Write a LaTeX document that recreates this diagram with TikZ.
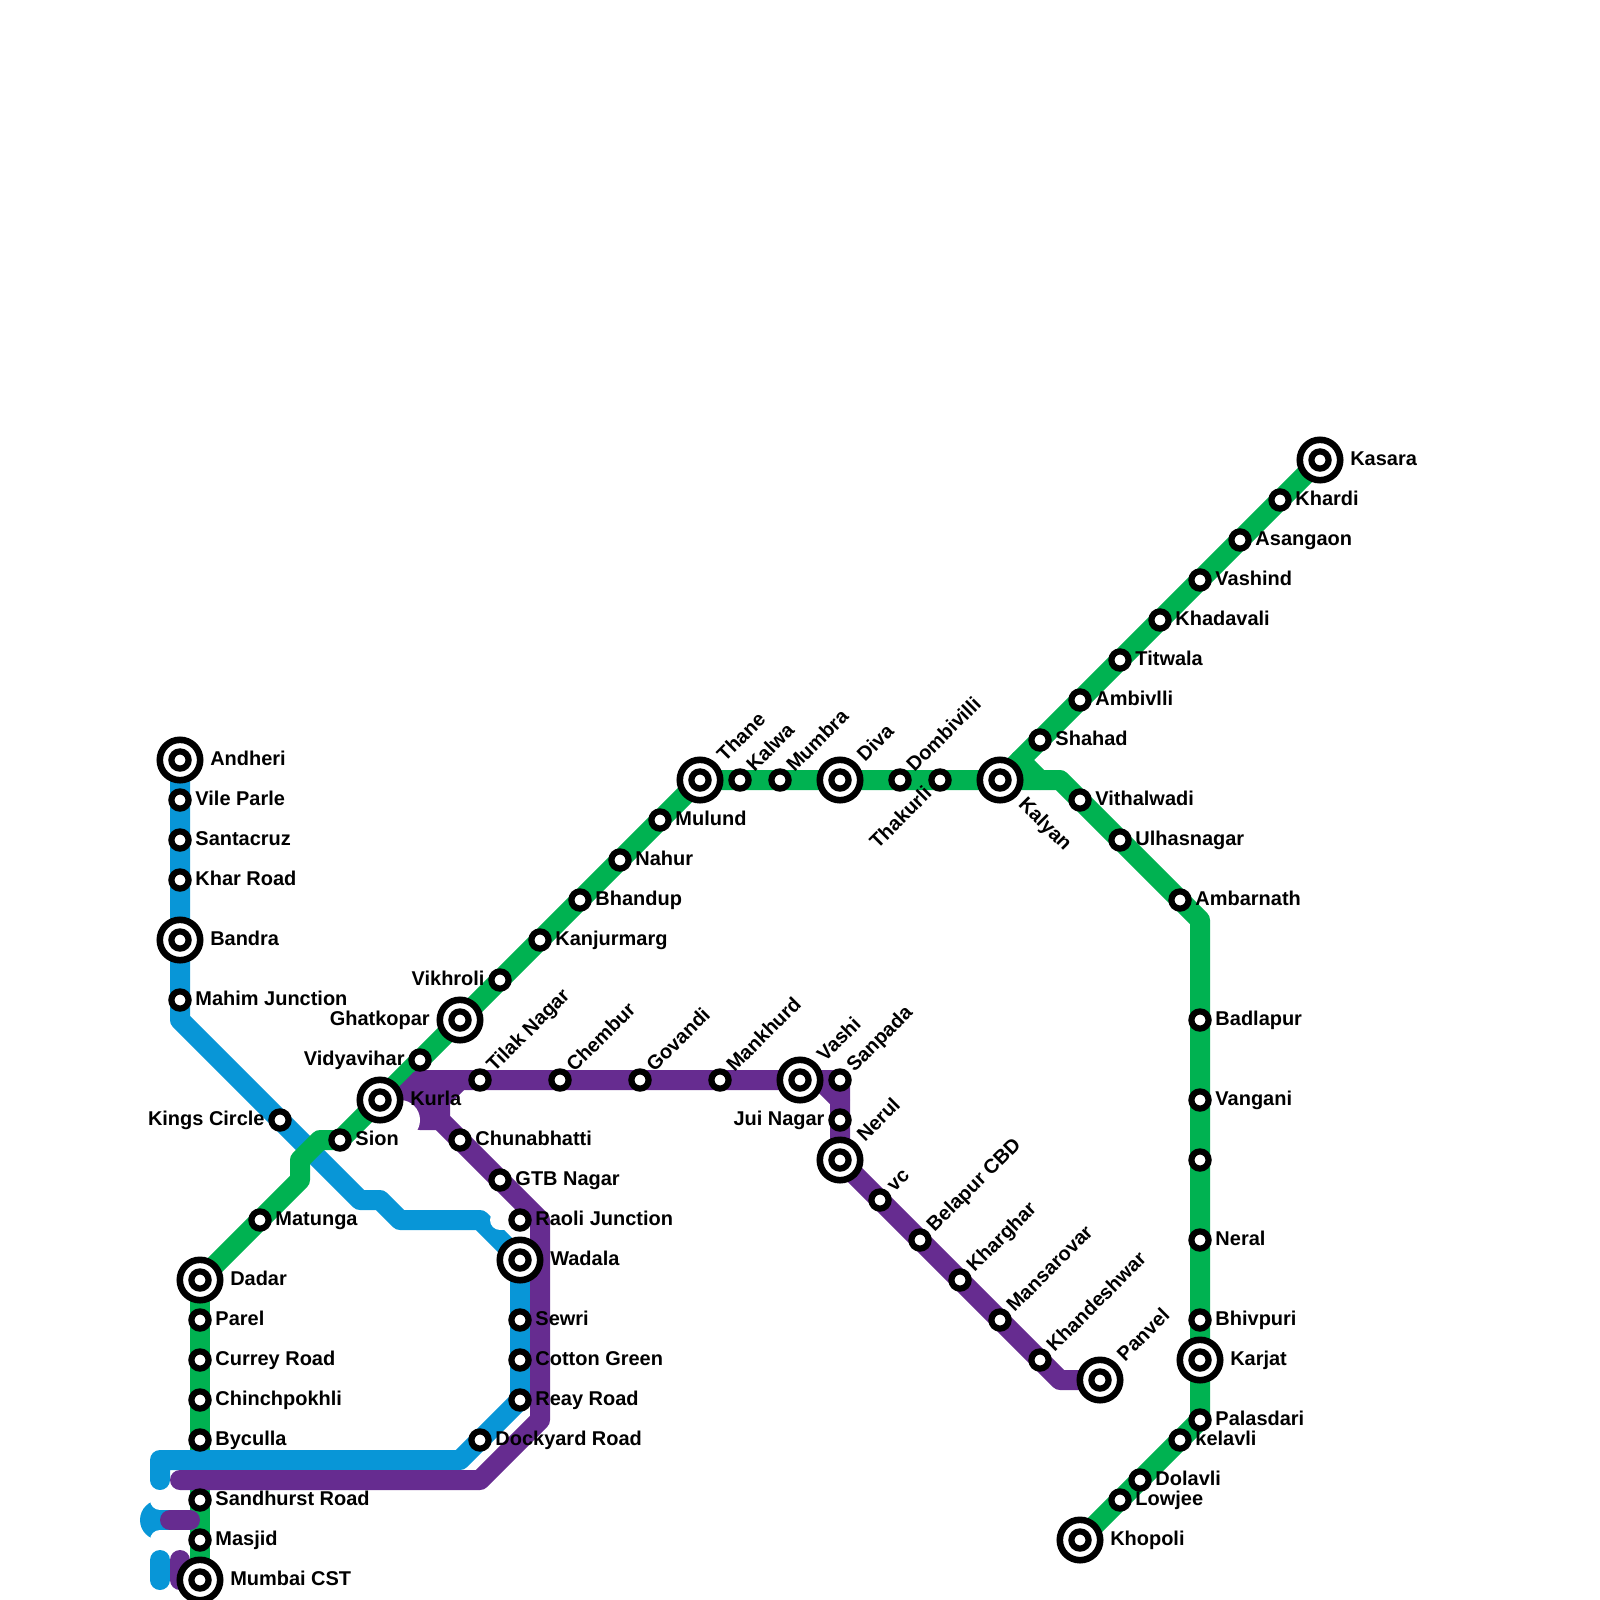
\documentclass[tikz,border=0pt]{standalone}
\usepackage{fontspec}
\setmainfont{Liberation Sans}
\usetikzlibrary{positioning,backgrounds}
\definecolor{lineblue}{HTML}{0896D7}
\definecolor{linegreen}{HTML}{00B251}
\definecolor{linepurple}{HTML}{662C90}
\begin{document}
\begin{tikzpicture}[x=0.5cm, y=-0.5cm,
    stn/.style={circle, draw=black, fill=white, line width=0.155cm, minimum size=0.43cm, inner sep=0pt},
    hub/.style={circle, draw=black, fill=white, line width=0.165cm, minimum size=1.01cm, inner sep=0pt},
    lbl/.style={inner sep=0pt, text height=10pt, text depth=2.4pt, font=\fontsize{14.2}{16}\selectfont\bfseries},
    pipe/.style={line width=0.5cm, line cap=round, line join=round}]
  \useasboundingbox (0,0) rectangle (80,80);
  % plain stations, text to the east
  \foreach \id/\x/\y/\txt in {vileparle/9/40/Vile Parle, santacruz/9/42/Santacruz, kharroad/9/44/Khar Road,
      mahim/9/50/Mahim Junction, sion/17/57/Sion, matunga/13/61/Matunga, parel/10/66/Parel,
      curreyroad/10/68/Currey Road, chinchpokhli/10/70/Chinchpokhli, byculla/10/72/Byculla,
      sandhurst/10/75/Sandhurst Road, masjid/10/77/Masjid, mulund/33/41/Mulund, nahur/31/43/Nahur,
      bhandup/29/45/Bhandup, kanjurmarg/27/47/Kanjurmarg, khardi/64/25/Khardi, asangaon/62/27/Asangaon,
      vashind/60/29/Vashind, khadavali/58/31/Khadavali, titwala/56/33/Titwala, ambivli/54/35/Ambivlli,
      shahad/52/37/Shahad, vithalwadi/54/40/Vithalwadi, ulhasnagar/56/42/Ulhasnagar,
      ambarnath/59/45/Ambarnath, badlapur/60/51/Badlapur, vangani/60/55/Vangani, neral/60/62/Neral,
      bhivpuri/60/66/Bhivpuri, palasdari/60/71/Palasdari, kelavli/59/72/kelavli, dolavli/57/74/Dolavli,
      lowjee/56/75/Lowjee, chunabhatti/23/57/Chunabhatti, gtbnagar/25/59/GTB Nagar,
      raoli/26/61/Raoli Junction, sewri/26/66/Sewri, cottongreen/26/68/Cotton Green,
      reayroad/26/70/Reay Road, dockyard/24/72/Dockyard Road} {
    \node[stn] (\id) at (\x,\y) {};
    \node[lbl, right=0.38cm of \id.center] (\id-t) {\txt};
  }
  % plain stations, text to the west
  \foreach \id/\x/\y/\txt in {kingscircle/14/56/Kings Circle, vikhroli/25/49/Vikhroli,
      vidyavihar/21/53/Vidyavihar, juinagar/42/56/Jui Nagar} {
    \node[stn] (\id) at (\x,\y) {};
    \node[lbl, left=0.38cm of \id.center] (\id-t) {\txt};
  }
  % plain stations, text rising at 45 degrees
  \foreach \id/\x/\y/\txt in {tilaknagar/24/54/Tilak Nagar, chembur/28/54/Chembur, govandi/32/54/Govandi,
      mankhurd/36/54/Mankhurd, sanpada/42/54/Sanpada, kalwa/37/39/Kalwa, mumbra/39/39/Mumbra,
      dombivilli/45/39/Dombivilli, vc/44/60/vc, belapur/46/62/Belapur CBD, kharghar/48/64/Kharghar,
      mansarovar/50/66/Mansarovar, khandeshwar/52/68/Khandeshwar} {
    \node[stn] (\id) at (\x,\y) {};
    \node[lbl, rotate=45, anchor=west] (\id-t) at ([shift={(45:0.38cm)}]\id.center) {\txt};
  }
  \node[stn] (thakurli) at (47,39) {};
  \node[lbl, rotate=45, anchor=east] (thakurli-t) at ([shift={(225:0.38cm)}]thakurli.center) {Thakurli};
  \node[stn] (nolabel) at (60,58) {};
  % big stations, text to the east
  \foreach \id/\x/\y/\txt in {andheri/9/38/Andheri, bandra/9/47/Bandra, dadar/10/64/Dadar,
      mumbaicst/10/79/Mumbai CST, kurla/19/55/Kurla, wadala/26/63/Wadala, kasara/66/23/Kasara,
      karjat/60/68/Karjat, khopoli/54/77/Khopoli} {
    \node[hub] (\id) at (\x,\y) {};
    \node[stn] (\id-c) at (\x,\y) {};
    \node[lbl, right=0.75cm of \id.center] (\id-t) {\txt};
  }
  \node[hub] (ghatkopar) at (23,51) {};
  \node[stn] (ghatkopar-c) at (23,51) {};
  \node[lbl, left=0.75cm of ghatkopar.center] (ghatkopar-t) {Ghatkopar};
  % big stations, text rising at 45 degrees
  \foreach \id/\x/\y/\txt in {thane/35/39/Thane, diva/42/39/Diva, vashi/40/54/Vashi, nerul/42/58/Nerul,
      panvel/55/69/Panvel} {
    \node[hub] (\id) at (\x,\y) {};
    \node[stn] (\id-c) at (\x,\y) {};
    \node[lbl, rotate=45, anchor=west] (\id-t) at ([shift={(45:0.75cm)}]\id.center) {\txt};
  }
  \node[hub] (kalyan) at (50,39) {};
  \node[stn] (kalyan-c) at (50,39) {};
  \node[lbl, rotate=-45, anchor=west] (kalyan-t) at ([shift={(-45:0.75cm)}]kalyan.center) {Kalyan};

  \begin{scope}[on background layer]
    % bends
    \coordinate (b1) at (9,51);
    \coordinate (b2) at (18,60);
    \coordinate (b3) at (19,60);
    \coordinate (b4) at (20,61);
    \coordinate (b5) at (24,61);
    \coordinate (b6) at (23,73);
    \coordinate (b7) at (8,73);
    \coordinate (b8) at (8,74);
    \coordinate (g1) at (16,57);
    \coordinate (g2) at (15,58);
    \coordinate (g3) at (15,59);
    \coordinate (g4) at (53,39);
    \coordinate (g5) at (60,46);
    \coordinate (g6) at (51,38);
    \coordinate (g7) at (52,39);
    \coordinate (p1) at (9,74);
    \coordinate (p2) at (24,74);
    \coordinate (p3) at (27,71);
    \coordinate (p4) at (27,61);
    \coordinate (p5) at (22,56);
    \coordinate (p6) at (22,55);
    \coordinate (p7) at (23,54);
    \coordinate (p8) at (21,54);
    \coordinate (p9) at (20,55);
    \coordinate (p10) at (21,56);
    \coordinate (p11) at (41,54);
    \coordinate (p12) at (42,55);
    \coordinate (p13) at (53,69);

    \draw[pipe, linegreen] (byculla.center) -- (sandhurst.center) -- (masjid.center) -- (mumbaicst.center);
    % blue line
    \draw[pipe, lineblue] (andheri.center) -- (b1) -- (b2) -- (b3) -- (b4) -- (b5) -- (wadala.center)
      -- (reayroad.center) -- (dockyard.center) -- (b6) -- (b7) -- (b8);
    \fill[lineblue] (8,76) circle (1);
    \draw[pipe, lineblue] (8,78) -- (8,79);
    \draw[pipe, white] (25,61) -- (raoli.center);
    \draw[pipe, white] (8,75) -- (9,75);
    \draw[pipe, white] (8,77) -- (9,77);
    % green line
    \draw[pipe, linegreen] (dadar.center) -- (byculla.center);
    \draw[pipe, linegreen] (dadar.center) -- (g3) -- (g2) -- (g1) -- (sion.center) -- (thane.center)
      -- (kalyan.center) -- (g4) -- (ambarnath.center) -- (g5) -- (palasdari.center) -- (khopoli.center);
    \draw[pipe, linegreen] (kalyan.center) -- (kasara.center);
    \draw[pipe, linegreen] (g6) -- (g7);
    % purple line
    \draw[pipe, linepurple] (p1) -- (p2) -- (p3) -- (p4) -- (gtbnagar.center) -- (p5) -- (p6) -- (p7);
    \draw[pipe, linepurple] (p9) -- (p8) -- (sanpada.center) -- (nerul.center) -- (khandeshwar.center)
      -- (p13) -- (panvel.center);
    \draw[pipe, linepurple] (p11) -- (p12);
    \draw[pipe, linepurple] (p9) -- (p10) -- (p5);
    \draw[pipe, linepurple] (p9) -- (p6);
    \draw[pipe, linepurple] (p8) -- (p10);
    \fill[white] (20,56) circle (1);
    \draw[pipe, linepurple] (8.5,76) -- (9.5,76);
    \draw[pipe, linepurple] (9,78) -- (9,79);
  \end{scope}
\end{tikzpicture}
\end{document}
